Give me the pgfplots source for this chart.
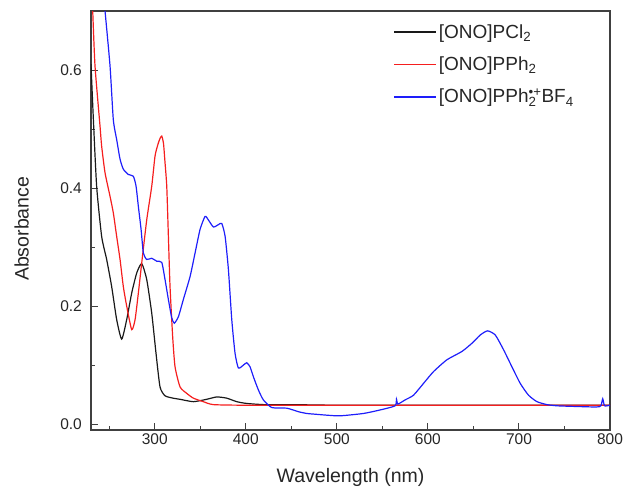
\documentclass[border=0pt]{standalone}
\usepackage{fontspec}
\setmainfont{Liberation Sans}
\usepackage{pgfplots}
\pgfplotsset{compat=1.18}
\definecolor{cblack}{RGB}{25,25,25}
\definecolor{cred}{RGB}{245,30,30}
\definecolor{cblue}{RGB}{30,30,250}
\begin{document}
\begin{tikzpicture}
\begin{axis}[
 scale only axis, width=519pt, height=419pt,
 xmin=230, xmax=800, ymin=-0.01, ymax=0.70,
 xtick={300,400,...,800}, minor xtick={250,350,...,750},
 ytick={0,0.2,0.4,0.6}, minor ytick={0.1,0.3,0.5},
 xtick pos=bottom, ytick pos=left,
 tick align=inside, major tick length=7pt, minor tick length=4pt,
 every tick/.style={line width=1pt, color=black!75},
 axis line style={line width=1.3pt, color=black!75},
 /pgf/number format/assume math mode=true,
 yticklabel style={/pgf/number format/fixed, /pgf/number format/fixed zerofill, /pgf/number format/precision=1},
 ticklabel style={font=\fontsize{15.5}{18}\selectfont, color=black!85},
 xticklabel style={inner sep=0pt, yshift=-3pt, anchor=north},
 yticklabel style={inner sep=0pt, xshift=-9pt, anchor=east},
 xlabel={Wavelength (nm)}, ylabel={Absorbance},
 xlabel style={at={(axis description cs:0.5,-0.0907)}, anchor=north, inner sep=0pt, font=\fontsize{19.5}{22}\selectfont, color=black!85},
 ylabel style={at={(axis description cs:-0.1335,0.48)}, anchor=center, inner sep=0pt, font=\fontsize{19.5}{22}\selectfont, color=black!85},
 legend style={draw=none, fill=none, at={(axis description cs:0.582,0.973)}, anchor=north west, inner sep=0pt, row sep=13pt, font=\fontsize{19}{22}\selectfont, text=black!85},
 legend cell align=left,
 legend image code/.code={\draw[#1] (0pt,0pt) -- (42pt,0pt);},
 legend image post style={line width=1.6pt},
]
\addplot[cblack, line width=1.2pt, smooth, tension=0.35] coordinates {
(230,0.61) (232.5,0.52) (236.2,0.403) (241.7,0.318) (247.2,0.279) (252.7,0.233)
(258.2,0.177) (263.7,0.144) (269.2,0.177) (274.7,0.222) (280.2,0.256) (285.7,0.272)
(291.2,0.245) (296.7,0.188) (301.4,0.12) (305.8,0.063) (311.3,0.048) (320,0.044)
(327.8,0.042) (342.4,0.038) (357,0.042) (368,0.046) (379,0.044) (390,0.038)
(401,0.035) (420,0.033) (450,0.033) (500,0.032) (600,0.032) (700,0.032) (800,0.032)
};
\addlegendentry{[ONO]PCl\textsubscript{2}}
\addplot[cred, line width=1.2pt, smooth, tension=0.35] coordinates {
(231.9,0.70) (234.4,0.607) (239.9,0.505) (241.7,0.471) (245.4,0.426) (250.9,0.386)
(254.5,0.358) (258.2,0.318) (261.9,0.279) (265.5,0.233) (269.2,0.2) (274.7,0.16)
(278.4,0.177) (282,0.222) (285.7,0.273) (291.2,0.346) (296.7,0.403) (300.3,0.454)
(303.5,0.474) (305.8,0.484) (307.7,0.488) (309.6,0.476) (311.2,0.445) (313.2,0.403) (315,0.318) (316.8,0.233)
(319.7,0.148) (322.3,0.097) (327.8,0.063) (335.2,0.052) (342.4,0.044) (353.4,0.038)
(364.4,0.033) (400,0.032) (500,0.032) (600,0.032) (700,0.032) (800,0.032)
};
\addlegendentry{[ONO]PPh\textsubscript{2}}
\addplot[cblue, line width=1.2pt, smooth, tension=0.35] coordinates {
(245.4,0.70) (250.9,0.607) (254.5,0.516) (258.2,0.482) (261.9,0.449) (265.5,0.432)
(271,0.423) (276.5,0.42) (279.5,0.403) (282,0.369) (285,0.33) (287.5,0.29)
(291.2,0.279) (296.7,0.281) (302.2,0.276) (307.7,0.274) (311.3,0.245) (315,0.211)
(318.7,0.18) (321.5,0.171) (326,0.182) (331.4,0.211) (338.8,0.25) (344.3,0.29)
(349.8,0.33) (355.3,0.352) (358.9,0.346) (364.4,0.334) (369.9,0.338) (373.6,0.34)
(377.3,0.318) (380.9,0.262) (384.6,0.177) (388.2,0.12) (391.9,0.095) (397.4,0.1)
(401.1,0.104) (404.7,0.097) (408.4,0.08) (413.8,0.058) (419.3,0.041) (428.6,0.028)
(445,0.027) (457.8,0.021) (467,0.018) (474.3,0.017) (490,0.015) (503.6,0.014)
(529.2,0.018) (547.6,0.024) (564,0.031) (565.5,0.042) (567,0.034) (575,0.041)
(584.2,0.049) (595.2,0.069) (606.2,0.089) (620.9,0.109) (637.3,0.123) (648.4,0.137)
(657.5,0.151) (665.5,0.158) (674,0.151) (683.1,0.126) (692.3,0.097) (701.4,0.069)
(710.5,0.049) (719.8,0.038) (730.8,0.033) (741.8,0.031) (760,0.030) (785,0.029)
(790,0.031) (792,0.043) (794,0.031) (800,0.032)
};
\addlegendentry{[ONO]PPh\rlap{\textsubscript{2}}\textsuperscript{\textbullet+}BF\textsubscript{4}}
\end{axis}
\pgfresetboundingbox
\path[use as bounding box] ([shift={(-91pt,-59pt)}]current axis.south west) rectangle ([shift={(15pt,11pt)}]current axis.north east);
\end{tikzpicture}
\end{document}
